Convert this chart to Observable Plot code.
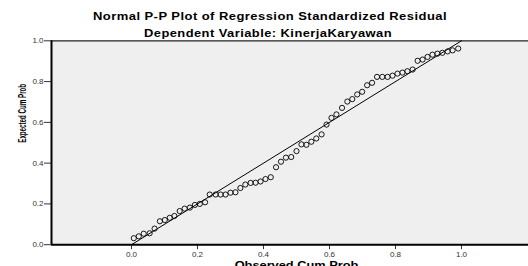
<!DOCTYPE html>
<html><head><meta charset="utf-8">
<script src="https://cdn.jsdelivr.net/npm/d3@7"></script>
<script src="https://cdn.jsdelivr.net/npm/@observablehq/plot@0.6"></script>
<style>
body{margin:0;background:#fff;font-family:"Liberation Sans",Arial,sans-serif;}
#head{position:relative;height:36px;}
.t{position:absolute;white-space:nowrap;font-weight:bold;font-size:11.5px;line-height:13px;color:#000;transform-origin:0 50%;}
</style></head><body>
<div id="head"><span class="t" id="title"></span><span class="t" id="subtitle"></span></div>
<div id="chart"></div>
<script>
const titleText = "Normal P-P Plot of Regression Standardized Residual";
const subtitleText = "Dependent Variable: KinerjaKaryawan";
const xLabel = "Observed Cum Prob";
const yLabel = "Expected Cum Prob";
const xTicks = [0, 0.2, 0.4, 0.6, 0.8, 1.0];
const yTicks = [0, 0.2, 0.4, 0.6, 0.8, 1.0];
const refLineX = [0, 1];
const refLineY = [0, 1];
const observedCumProb = [
  0.007, 0.022, 0.037, 0.055, 0.070, 0.086, 0.101, 0.116, 0.130, 0.146,
  0.161, 0.177, 0.192, 0.207, 0.223, 0.237, 0.255, 0.270, 0.285, 0.300,
  0.315, 0.330, 0.345, 0.361, 0.376, 0.391, 0.406, 0.422, 0.438, 0.453,
  0.468, 0.484, 0.500, 0.515, 0.530, 0.545, 0.560, 0.576, 0.591, 0.606,
  0.621, 0.638, 0.654, 0.669, 0.684, 0.699, 0.714, 0.729, 0.744, 0.760,
  0.776, 0.791, 0.806, 0.821, 0.836, 0.852, 0.867, 0.882, 0.897, 0.912,
  0.927, 0.942, 0.958, 0.973, 0.990
];
const expectedCumProb = [
  0.032, 0.041, 0.054, 0.056, 0.079, 0.115, 0.121, 0.132, 0.141, 0.165,
  0.177, 0.182, 0.195, 0.200, 0.208, 0.246, 0.246, 0.246, 0.246, 0.255,
  0.257, 0.278, 0.295, 0.303, 0.304, 0.310, 0.322, 0.331, 0.380, 0.407,
  0.427, 0.430, 0.459, 0.492, 0.490, 0.505, 0.521, 0.541, 0.589, 0.622,
  0.639, 0.671, 0.702, 0.714, 0.737, 0.750, 0.782, 0.794, 0.823, 0.823,
  0.823, 0.829, 0.839, 0.844, 0.851, 0.859, 0.902, 0.908, 0.921, 0.932,
  0.937, 0.941, 0.948, 0.953, 0.962
];

const points = observedCumProb.map((x, i) => ({x, y: expectedCumProb[i]}));
const refLine = refLineX.map((x, i) => ({x, y: refLineY[i]}));
const xDomain = [-0.2424, 1.203];

function fitSpan(el, text, left, width, top) {
  el.textContent = text;
  el.style.left = left + "px";
  el.style.top = top + "px";
  el.style.letterSpacing = "0.4px";
  const w = el.getBoundingClientRect().width;
  el.style.transform = "scaleX(" + (width / w) + ")";
}
fitSpan(document.getElementById("title"), titleText, 93, 354, 10);
fitSpan(document.getElementById("subtitle"), subtitleText, 144, 248, 26.5);

const H = 240, MT = 4.3, PH = 203.9;
const chart = Plot.plot({
  width: 528,
  height: H,
  marginTop: MT,
  marginLeft: 51,
  marginRight: 0,
  marginBottom: H - MT - PH,
  style: {fontFamily: "Liberation Sans, Arial, sans-serif", fontSize: "8px", background: "white", color: "#333"},
  x: {domain: xDomain, ticks: xTicks, tickFormat: d3.format(".1f"), tickSize: 5, tickPadding: 1.5, label: null},
  y: {domain: [0, 1], ticks: yTicks, tickFormat: d3.format(".1f"), tickSize: 7, tickPadding: 1, label: null},
  marks: [
    Plot.frame({fill: "#efefef", stroke: null}),
    Plot.ruleY([1], {stroke: "#222", strokeWidth: 1.3}),
    Plot.line(refLine, {x: "x", y: "y", stroke: "#000", strokeWidth: 1}),
    Plot.dot(points, {x: "x", y: "y", r: 2.6, stroke: "#000", strokeWidth: 0.9, fill: "none"}),
    Plot.ruleX([xDomain[0]], {stroke: "#000", strokeWidth: 2}),
    Plot.ruleY([0], {stroke: "#000", strokeWidth: 2}),
    Plot.text([yLabel], {text: d => d, frameAnchor: "left", dx: -29, rotate: -90, fontSize: 10.5, fontWeight: "bold", fill: "#000"}),
    Plot.text([{x: 0.5, t: xLabel}], {x: "x", text: "t", frameAnchor: "bottom", dy: 16.5, lineAnchor: "top", fontSize: 11.5, fontWeight: "bold", fill: "#000"})
  ]
});
document.getElementById("chart").appendChild(chart);

function squeeze(label, target) {
  d3.select(chart).selectAll("text").each(function() {
    if (this.textContent !== label) return;
    const len = this.getComputedTextLength();
    const t = this.getAttribute("transform") || "";
    this.setAttribute("transform", t + " scale(" + (target / len) + ",1)");
  });
}
squeeze(yLabel, 59);
squeeze(xLabel, 124);
</script>
</body></html>
